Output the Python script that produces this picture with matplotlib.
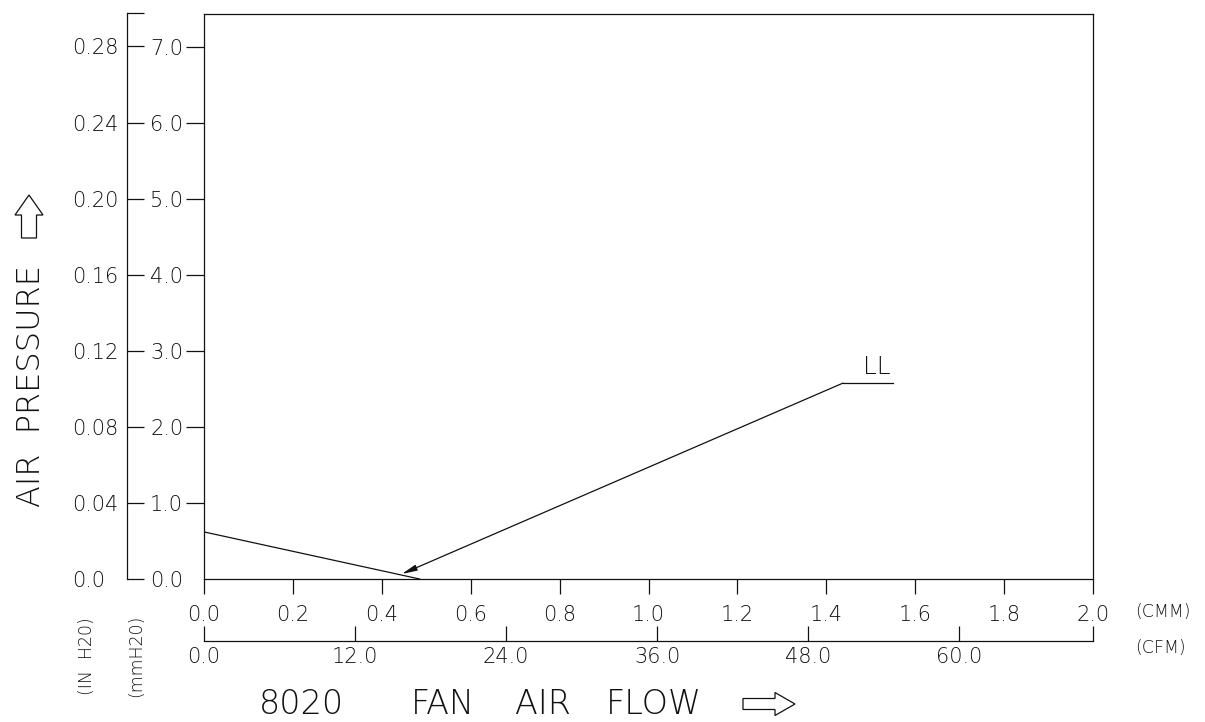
import matplotlib.pyplot as plt
from matplotlib.patches import FancyArrow

plt.rcParams['font.family'] = ['DejaVu Sans']
plt.rcParams['font.weight'] = 'light'
plt.rcParams['axes.linewidth'] = 0.9

# --- data ---
cmm_ticks = [0.0, 0.2, 0.4, 0.6, 0.8, 1.0, 1.2, 1.4, 1.6, 1.8, 2.0]
cfm_ticks = [0.0, 12.0, 24.0, 36.0, 48.0, 60.0]
mm_ticks = [0.0, 1.0, 2.0, 3.0, 4.0, 5.0, 6.0, 7.0]
in_ticks = [0.0, 0.04, 0.08, 0.12, 0.16, 0.20, 0.24, 0.28]
in_labels = ['0.0', '0.04', '0.08', '0.12', '0.16', '0.20', '0.24', '0.28']

curve_flow = [0.0, 0.485]        # CMM
curve_pressure = [0.62, 0.0]     # mmH2O
curve_name = 'LL'
label_at = (1.4376, 2.58)        # leader start (CMM, mmH2O)
label_end = 1.55
arrow_tip = (0.445, 0.066)

cmm_max = 2.0
cfm_max = cmm_max * 35.3147
mm_max = 7.44
in_per_mm = 0.04

W, H = 1205, 722
fig = plt.figure(figsize=(W / 100, H / 100), dpi=100)
ink = '#111111'
fs = 15


def box(x0, y0, x1, y1):
    return [x0 / W, 1 - y1 / H, (x1 - x0) / W, (y1 - y0) / H]


# main chart
ax = fig.add_axes(box(204, 14, 1093, 579))
ax.set_xlim(0, cmm_max)
ax.set_ylim(0, mm_max)
for s in ax.spines.values():
    s.set_color(ink)
ax.set_xticks(cmm_ticks)
ax.set_xticklabels([f'{v:.1f}' for v in cmm_ticks])
ax.set_yticks(mm_ticks)
ax.set_yticklabels([f'{v:.1f}' for v in mm_ticks])
ax.tick_params(axis='x', direction='out', length=11, width=0.9, pad=8,
               labelsize=fs, colors=ink)
ax.tick_params(axis='y', direction='out', length=13, width=0.9, pad=2,
               labelsize=fs, colors=ink)
ax.yaxis.get_major_ticks()[0].tick1line.set_visible(False)

ax.plot(curve_flow, curve_pressure, color=ink, lw=0.9)
ax.annotate('', xy=arrow_tip, xytext=label_at,
            arrowprops=dict(arrowstyle='-|>,head_length=0.9,head_width=0.18',
                            color=ink, lw=0.9, shrinkA=0, shrinkB=0))
ax.plot([label_at[0], label_end], [label_at[1], label_at[1]], color=ink, lw=0.9)
ax.text((label_at[0] + label_end) / 2 + 0.02, label_at[1] + 0.06, curve_name,
        ha='center', va='bottom', fontsize=18, color=ink)

# outer pressure axis (IN H2O)
ax2 = fig.add_axes(box(127, 13, 160, 579))
ax2.set_xlim(0, 1)
ax2.set_ylim(0, mm_max * in_per_mm)
for k in ['top', 'right', 'bottom']:
    ax2.spines[k].set_visible(False)
ax2.spines['left'].set_color(ink)
ax2.patch.set_visible(False)
ax2.set_xticks([])
top_in = mm_max * in_per_mm
ax2.set_yticks(in_ticks + [top_in])
ax2.set_yticklabels(in_labels + [''])
ax2.tick_params(axis='y', direction='in', length=12, width=0.9, pad=6,
                labelsize=fs, colors=ink)
ax2.yaxis.get_major_ticks()[0].set_pad(16)

# CFM axis
ax3 = fig.add_axes(box(204, 630, 1093, 641))
ax3.set_xlim(0, cfm_max)
ax3.set_ylim(0, 1)
for k in ['top', 'right', 'left']:
    ax3.spines[k].set_visible(False)
ax3.spines['bottom'].set_color(ink)
ax3.patch.set_visible(False)
ax3.set_yticks([])
ax3.set_xticks(cfm_ticks + [cfm_max])
ax3.set_xticklabels([f'{v:.1f}' for v in cfm_ticks] + [''])
ax3.tick_params(axis='x', direction='in', length=11, width=0.9, pad=4,
                labelsize=fs, colors=ink)

# unit labels
fig.text(1135 / W, 1 - 612 / H, '(CMM)', ha='left', va='center', fontsize=12.5, color=ink)
fig.text(1135 / W, 1 - 648 / H, '(CFM)', ha='left', va='center', fontsize=12.5, color=ink)
fig.text(87 / W, 1 - 656 / H, '(IN  H20)', ha='center', va='center', rotation=90,
         fontsize=12.5, color=ink)
fig.text(136 / W, 1 - 656 / H, '(mmH20)', ha='center', va='center', rotation=90,
         fontsize=12.5, color=ink)

# axis titles
fig.text(31 / W, 1 - 386 / H, 'AIR  PRESSURE', ha='center', va='center',
         rotation=90, fontsize=23, color=ink)
for word, x in [('8020', 301), ('FAN', 443), ('AIR', 543), ('FLOW', 654)]:
    fig.text(x / W, 1 - 705 / H, word, ha='center', va='center', fontsize=24, color=ink)

# hollow direction arrows (pixel geometry, converted to inches)
px = lambda v: v / 100
fig.add_artist(FancyArrow(px(29), px(H - 238), 0, px(43), width=px(15),
                          head_width=px(28), head_length=px(20),
                          length_includes_head=True, fill=False, ec=ink, lw=0.9,
                          transform=fig.dpi_scale_trans))
fig.add_artist(FancyArrow(px(743), px(H - 704), px(52), 0, width=px(11),
                          head_width=px(23), head_length=px(20),
                          length_includes_head=True, fill=False, ec=ink, lw=0.9,
                          transform=fig.dpi_scale_trans))

fig.savefig('out.png', dpi=100)
